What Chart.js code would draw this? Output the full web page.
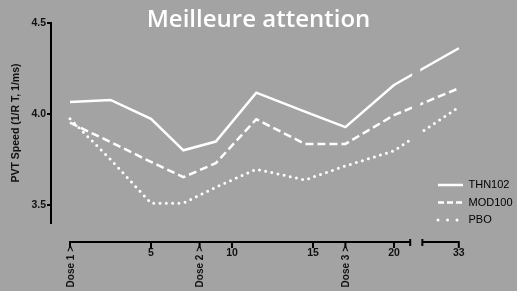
<!DOCTYPE html>
<html>
<head>
  <title>Meilleure attention</title>
  <script src="https://cdn.jsdelivr.net/npm/chart.js"></script>
  <style>
    body { margin: 0; background: #a3a3a3; }
  </style>
</head>
<body>
  <canvas id="myChart" width="517" height="291"></canvas>

  <script>
    // Jours de mesure (0 = Dose 1)
    var days = [0, 2.5, 5, 7, 9, 11.5, 14.5, 17, 20, 33];

    // PVT Speed (1/RT, 1/ms)
    var thn102 = [4.066, 4.077, 3.973, 3.800, 3.848, 4.117, 4.013, 3.927, 4.159, 4.361];
    var mod100 = [3.952, 3.845, 3.736, 3.652, 3.729, 3.971, 3.835, 3.835, 3.993, 4.141];
    var pbo    = [3.973, 3.750, 3.509, 3.509, 3.597, 3.696, 3.637, 3.714, 3.797, 4.038];

    // Graduations
    var xTickDays = [0, 5, 8, 10, 15, 17, 20, 33];
    var xTickLabels = ['Dose 1 >', '5', 'Dose 2 >', '10', '15', 'Dose 3 >', '20', '33'];
    var yTicks = [3.5, 4.0, 4.5];

    var bgColor = '#a3a3a3';

    // axe cassé entre le jour 21 et le jour 30.75
    var breakFrom = 21, breakTo = 30.75, breakGap = 0.75;
    function axisPos(d) {
      return d <= breakFrom ? d : d - (breakTo - breakFrom) + breakGap;
    }

    function points(values) {
      return days.map(function(d, i) { return { x: axisPos(d), y: values[i] }; });
    }

    // tirets de la légende (plus courts que sur les courbes)
    var legendDash = [[], [6, 3], [0, 9.5]];

    Chart.defaults.font.family = '"Liberation Sans", Arial, sans-serif';

    var brokenAxis = {
      id: 'brokenAxis',
      afterLayout: function(chart) {
        // légende placée dans la zone du graphique, en bas à droite
        var lg = chart.legend;
        lg.left = 431.5; lg.top = 173; lg.right = 517; lg.bottom = 291;
      },
      afterDatasetsDraw: function(chart) {
        var x = chart.scales.x, a = chart.chartArea, c = chart.ctx;
        var x1 = x.getPixelForValue(breakFrom + 0.12);
        var x2 = x.getPixelForValue(breakFrom + 0.62);
        c.save();
        c.fillStyle = bgColor;
        c.fillRect(x1, a.top, x2 - x1, a.bottom - a.top);
        c.restore();
      },
      afterDraw: function(chart) {
        var x = chart.scales.x, c = chart.ctx;
        var y0 = chart.chartArea.bottom + 19;
        var p0 = x.getPixelForValue(axisPos(xTickDays[0]));
        var b1 = x.getPixelForValue(breakFrom);
        var b2 = x.getPixelForValue(breakFrom + breakGap);
        var pe = x.getPixelForValue(axisPos(xTickDays[xTickDays.length - 1]));
        c.save();
        c.strokeStyle = '#000';
        c.lineWidth = 2;
        c.beginPath();
        c.moveTo(p0 - 1, y0); c.lineTo(b1, y0);
        c.moveTo(b2, y0); c.lineTo(pe + 1, y0);
        c.moveTo(b1, y0 - 3); c.lineTo(b1, y0 + 4);
        c.moveTo(b2, y0 - 3); c.lineTo(b2, y0 + 4);
        xTickDays.forEach(function(d) {
          var px = x.getPixelForValue(axisPos(d));
          c.moveTo(px, y0); c.lineTo(px, y0 + 6);
        });
        c.stroke();

        // étiquettes verticales des doses
        c.fillStyle = '#111';
        c.font = 'bold 10px "Liberation Sans", Arial, sans-serif';
        c.textAlign = 'right';
        c.textBaseline = 'middle';
        xTickLabels.forEach(function(lbl, i) {
          if (lbl.indexOf('Dose') !== 0) return;
          var px = x.getPixelForValue(axisPos(xTickDays[i]));
          c.save();
          c.translate(px + 1, y0 + 4);
          c.rotate(-Math.PI / 2);
          c.fillText(lbl, 0, 0);
          c.restore();
        });
        c.restore();
      }
    };

    var ctx = document.getElementById('myChart').getContext('2d');
    var myChart = new Chart(ctx, {
      type: 'line',
      data: {
        datasets: [{
          label: 'THN102',
          data: points(thn102),
          borderColor: '#fff',
          borderWidth: 2.5,
          pointRadius: 0,
          fill: false
        }, {
          label: 'MOD100',
          data: points(mod100),
          borderColor: '#fff',
          borderWidth: 2.5,
          borderDash: [8, 4],
          pointRadius: 0,
          fill: false
        }, {
          label: 'PBO',
          data: points(pbo),
          borderColor: '#fff',
          borderWidth: 3,
          borderDash: [0, 6.3],
          borderCapStyle: 'round',
          pointRadius: 0,
          fill: false
        }]
      },
      options: {
        responsive: false,
        animation: false,
        layout: { padding: 0 },
        plugins: {
          title: {
            display: true,
            text: 'Meilleure attention',
            color: '#fff',
            font: { family: '"Open Sans"', size: 24, weight: '600', lineHeight: 1 },
            padding: { top: 8, bottom: -9 }
          },
          legend: {
            position: 'chartArea',
            align: 'start',
            labels: {
              color: '#000',
              font: { size: 11 },
              usePointStyle: true,
              pointStyle: 'line',
              pointStyleWidth: 25,
              padding: 6.5,
              generateLabels: function(chart) {
                var items = Chart.defaults.plugins.legend.labels.generateLabels(chart);
                items.forEach(function(it, i) {
                  var ds = chart.data.datasets[i];
                  it.pointStyle = 'line';
                  it.strokeStyle = ds.borderColor;
                  it.lineWidth = ds.borderWidth;
                  it.lineCap = ds.borderCapStyle || 'butt';
                  it.lineDash = legendDash[i];
                });
                return items;
              }
            }
          },
          tooltip: { enabled: false }
        },
        scales: {
          x: {
            type: 'linear',
            min: -1.173,
            max: 27.593,
            grid: { display: false },
            border: { display: false },
            afterBuildTicks: function(scale) {
              scale.ticks = xTickDays.map(function(d) { return { value: axisPos(d) }; });
            },
            afterFit: function(scale) { scale.height = 68; },
            ticks: {
              autoSkip: false,
              maxRotation: 0,
              minRotation: 0,
              padding: 16,
              color: '#111',
              font: { size: 10.5, weight: 'bold' },
              callback: function(value) {
                var i = xTickDays.map(axisPos).indexOf(value);
                if (i < 0 || xTickLabels[i].indexOf('Dose') === 0) return '';
                return xTickLabels[i];
              }
            }
          },
          y: {
            min: 3.4,
            max: 4.5,
            afterBuildTicks: function(scale) {
              scale.ticks = yTicks.map(function(v) { return { value: v }; });
            },
            afterFit: function(scale) { scale.width = 51; },
            grid: {
              drawOnChartArea: false,
              drawTicks: true,
              tickLength: 4,
              color: '#000',
              lineWidth: 2
            },
            border: { display: true, color: '#000', width: 2 },
            ticks: {
              padding: 1,
              color: '#111',
              font: { size: 10.5, weight: 'bold' },
              callback: function(v) { return v.toFixed(1); }
            },
            title: {
              display: true,
              text: 'PVT Speed (1/R T, 1/ms)',
              color: '#111',
              font: { size: 10.5, weight: 'bold' },
              padding: { top: 10, bottom: 0 }
            }
          }
        }
      },
      plugins: [brokenAxis]
    });
  </script>
</body>
</html>
